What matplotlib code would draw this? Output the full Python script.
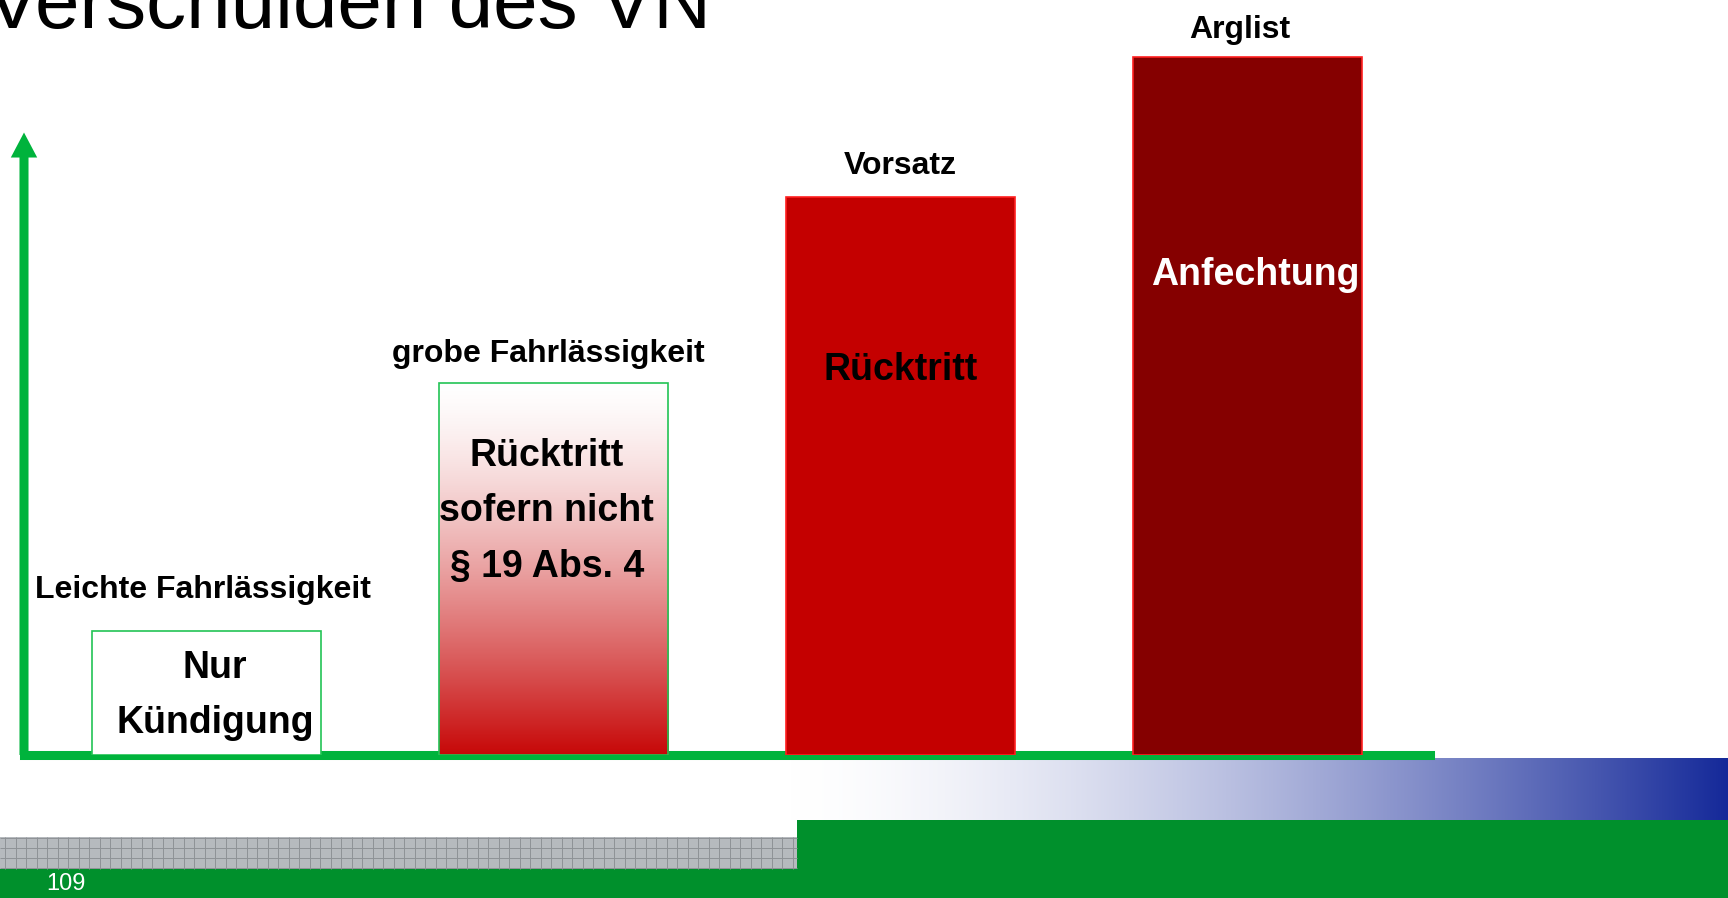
import numpy as np
import matplotlib.pyplot as plt
from matplotlib.patches import Rectangle

plt.rcParams['font.family'] = ['Liberation Sans', 'DejaVu Sans']

W, H = 1728, 898

# Daten
levels = ["Leichte Fahrlässigkeit", "grobe Fahrlässigkeit", "Vorsatz", "Arglist"]
heights = [1.0, 3.0, 4.5, 5.63]
consequences = ["Nur\nKündigung", "Rücktritt\nsofern nicht\n§ 19 Abs. 4", "Rücktritt", "Anfechtung"]
title = "Verschulden des VN"
page = "109"

# Stil
face = ["white", "gradient", "#c40000", "#850000"]
edge = ["#22c455", "#22c455", "#ff2020", "#ff2020"]
text_col = ["black", "black", "black", "white"]
text_frac = [0.48, 0.655, 0.69, 0.687]    # Textmitte relativ zur Balkenhoehe
text_dx = [8, -7, 0, 7]                   # px
label_dy = [41, 29, 31, 27]               # px ueber dem Balken
label_dx = [-4, -6, -1, -8]
green = "#00b33c"
footer_green = "#00902c"

fig = plt.figure(figsize=(W / 100, H / 100), dpi=100)

# Hintergrund / Fusszeile in Pixelkoordinaten
deco = fig.add_axes([0, 0, 1, 1])
deco.axis('off')
t = np.linspace(0, 1, 400) ** 1.6
blue = np.array([0.08, 0.16, 0.60])
grad = (1 - t)[:, None] * np.ones(3) + t[:, None] * blue
deco.imshow(grad[None, :, :], extent=(790, W, 820, 758), aspect='auto', zorder=1)
deco.add_patch(Rectangle((797, 820), W - 797, 78, color=footer_green, lw=0, zorder=2))
deco.add_patch(Rectangle((0, 869), W, 29, color=footer_green, lw=0, zorder=2))
deco.add_patch(Rectangle((0, 837), 797, 32, color="#b6babe", lw=0, zorder=2))
deco.vlines(np.arange(5, 797, 10.5), 837, 869, color="#8e9296", lw=0.7, zorder=3)
deco.hlines([837.5, 847.5, 858, 868], 0, 797, color="#8e9296", lw=0.7, zorder=3)
deco.set_xlim(0, W)
deco.set_ylim(H, 0)

# Diagramm
ax = fig.add_axes([24 / W, (H - 755) / H, (1430 - 24) / W, 755 / H])
ax.patch.set_visible(False)
x = np.arange(len(levels))
bars = ax.bar(x, heights, width=0.66,
              color=[c if c != "gradient" else "none" for c in face],
              edgecolor=edge, linewidth=1.2, zorder=3)

# Farbverlauf weiss -> rot fuer "grobe Fahrlaessigkeit"
for b, f in zip(bars, face):
    if f == "gradient":
        s = np.linspace(0, 1, 300) ** 1.4
        red = np.array([0.78, 0.03, 0.03])
        g = (1 - s)[:, None] * np.ones(3) + s[:, None] * red
        ax.imshow(g[:, None, :], extent=(b.get_x(), b.get_x() + b.get_width(), 0, b.get_height()),
                  origin='upper', aspect='auto', zorder=2.9)

for i, b in enumerate(bars):
    xc = b.get_x() + b.get_width() / 2
    ax.annotate(levels[i], xy=(xc, b.get_height()), xytext=(label_dx[i] * 0.72, label_dy[i] * 0.72),
                textcoords='offset points', ha='center', va='center',
                fontsize=23, fontweight='bold', annotation_clip=False)
    ax.annotate(consequences[i], xy=(xc, b.get_height() * text_frac[i]),
                xytext=(text_dx[i] * 0.72, 0), textcoords='offset points',
                ha='center', va='center', fontsize=27, fontweight='bold',
                color=text_col[i], linespacing=1.7, zorder=4)

ax.set_xlim(-0.527, 3.525)
ax.set_ylim(0, 755 / 124)
ax.set_xticks([])
ax.set_yticks([])
for s in ['top', 'right', 'left']:
    ax.spines[s].set_visible(False)
ax.spines['bottom'].set_color(green)
ax.spines['bottom'].set_linewidth(6.5)
ax.spines['bottom'].set_zorder(2)

# y-Achse als Pfeil
ax.annotate("", xy=(0, 5.02), xytext=(0, 0), xycoords=('axes fraction', 'data'),
            arrowprops=dict(width=6.5, headwidth=19, headlength=18, color=green, shrink=0, lw=0),
            annotation_clip=False)

fig.text(-14 / W, 1 - 28 / H, title, fontsize=57.6, va='baseline', ha='left')
fig.text(46 / W, 1 - 884 / H, page, fontsize=17, color='white', va='center', ha='left')

fig.savefig("out.png", dpi=100)
